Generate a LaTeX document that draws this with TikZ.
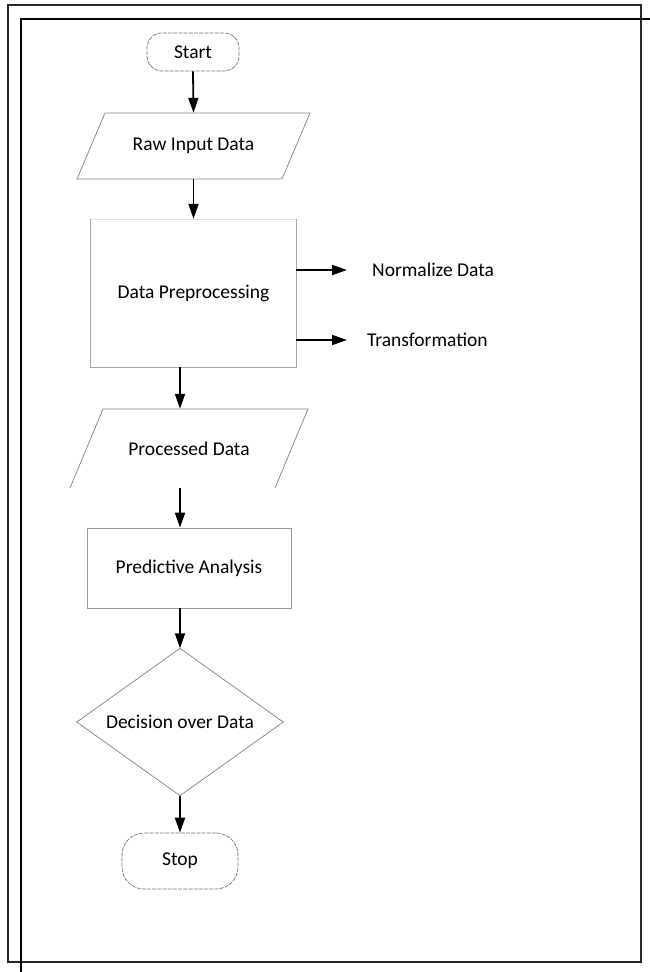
\documentclass[tikz,border=0pt]{standalone}
\usepackage{fontspec}
\setmainfont{Carlito}
\usetikzlibrary{arrows.meta,calc}
\begin{document}
\begin{tikzpicture}[x=1pt,y=-1pt,
  arr/.style={line width=1.8pt,-{Triangle[length=15pt,width=10pt]}},
  txt/.style={font=\fontsize{19.5}{23}\selectfont,inner sep=0pt},
  thinline/.style={draw=black!50,line width=0.7pt},
  term/.style={draw=black!55,line width=0.7pt,dash pattern=on 4pt off 1.2pt},
  ghost/.style={txt,draw=none}
]
\useasboundingbox (0,0) rectangle (650,972);
% frames
\draw[line width=1.6pt,black!85] (8,5) rectangle (641,962);
\draw[line width=1.2pt] (650,19) -- (21,19) -- (21,972);
\coordinate (ax) at (180,0);
% nodes
\node[txt,term,minimum width=92pt,minimum height=38pt,rounded corners=15pt] (start) at (193,52) {Start};
\node[ghost,minimum width=205pt,minimum height=66pt] (raw) at (193.5,146) {Raw Input Data};
\draw[thinline] (105,113) -- (310,113) -- (282,179) -- (77,179) -- cycle;
\node[ghost,minimum width=205pt,minimum height=148pt] (pre) at (193.5,293) {Data Preprocessing};
\draw[draw=black!35,line width=0.8pt] (pre.north west) -- (pre.south west) -- (pre.south east) -- (pre.north east);
\draw[draw=black!12,line width=0.6pt] (pre.north west) -- (pre.north east);
\node[txt,anchor=west] (norm) at (372,270) {Normalize Data};
\node[txt,anchor=west] (trans) at (367,340) {Transformation};
\node[ghost,minimum width=238pt,minimum height=79pt] (proc) at (189,448.5) {Processed Data};
\draw[thinline] (70,488) -- (103,409) -- (308,409) -- (275,488);
\node[txt,draw=black!40,line width=0.8pt,minimum width=204pt,minimum height=80pt] (pred) at (189,568) {Predictive Analysis};
\node[ghost,minimum width=206pt,minimum height=147pt] (dec) at (180,722) {Decision over Data};
\draw[thinline] (dec.north) -- (dec.east) -- (dec.south) -- (dec.west) -- cycle;
\node[txt,term,minimum width=116pt,minimum height=56pt,rounded corners=22pt] (stop) at (180,861) {Stop};
% connectors
\draw[arr] (start.south) -- (raw.north);
\draw[arr] (raw.south) -- (pre.north);
\draw[arr] (pre.east |- norm.west) -- ([xshift=-25pt]norm.west);
\draw[arr] (pre.east |- trans.west) -- ([xshift=-20pt]trans.west);
\draw[arr] (pre.south -| ax) -- (proc.north -| ax);
\draw[arr] (proc.south -| ax) -- (pred.north -| ax);
\draw[arr] (pred.south -| ax) -- (dec.north);
\draw[arr] (dec.south) -- (stop.north);
\end{tikzpicture}
\end{document}
